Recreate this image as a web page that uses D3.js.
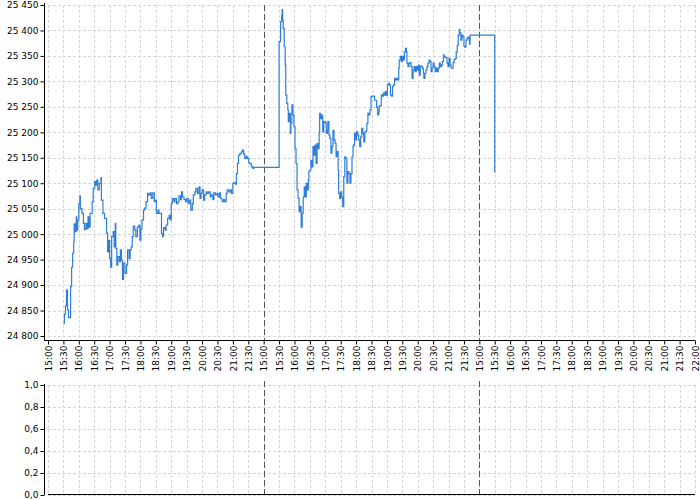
<!DOCTYPE html>
<html>
<head>
<meta charset="utf-8">
<script src="https://cdn.jsdelivr.net/npm/d3@7"></script>
<style>
  html, body { margin: 0; padding: 0; background: #ffffff; }
  svg { display: block; font-family: "DejaVu Sans", sans-serif; }
</style>
</head>
<body>
<svg id="chart" width="700" height="500"></svg>
<script>
// ---------------- DATA ----------------
// Time axis: minutes since the first session open (15:00), sessions concatenated
// (each session 15:00–22:00 = 420 minutes, overnight gap removed).
const tickLabels = [
  "15:00","15:30","16:00","16:30","17:00","17:30","18:00","18:30","19:00","19:30","20:00","20:30","21:00","21:30",
  "15:00","15:30","16:00","16:30","17:00","17:30","18:00","18:30","19:00","19:30","20:00","20:30","21:00","21:30",
  "15:00","15:30","16:00","16:30","17:00","17:30","18:00","18:30","19:00","19:30","20:00","20:30","21:00","21:30","22:00"
];
const sessionBreaks = [420, 840];
const priceTicks = [24800,24850,24900,24950,25000,25050,25100,25150,25200,25250,25300,25350,25400,25450];
const volumeTicks = [0, 0.2, 0.4, 0.6, 0.8, 1.0];

const minutes = [
  30,32,34,36,38,40,44,46,48,50,51,53,55,56,58,60,62,63,66,69,71,74,76,78,80,82,86,88,91,93,95,97,100,103,104,107,110,114,116,118,120,122,124,127,129,131,132,134,136,139,141,143,145,147,150,153,155,158,160,162,164,166,169,171,174,177,179,181,183,186,188,191,194,196,199,201,204,207,209,211,214,216,
  221,223,225,228,230,233,236,238,240,242,245,247,250,253,255,258,260,262,265,268,270,273,275,278,281,283,286,288,291,294,296,298,300,303,305,308,310,313,316,318,321,323,326,329,331,334,336,339,342,344,347,349,352,355,357,360,362,365,367,369,371,374,377,379,381,383,386,388,391,393,396,399,401,
  450,453,455,456,457,458,460,462,463,465,467,468,470,472,473,475,477,479,481,483,485,487,489,491,493,495,497,499,501,503,505,507,508,510,512,514,516,518,520,522,524,526,528,529,531,533,535,537,540,542,544,545,547,549,551,553,555,557,559,561,563,565,566,568,570,572,574,576,578,580,582,584,586,588,590,592,594,595,597,599,601,603,605,607,609,611,613,615,617,620,621,623,625,627,
  629,631,636,640,642,644,645,649,651,653,655,657,659,661,663,665,667,669,671,673,675,677,679,681,683,684,686,688,690,692,694,696,698,699,701,703,705,707,709,711,713,715,717,719,721,723,725,727,729,731,732,734,736,738,740,742,744,746,748,750,752,754,756,758,760,762,764,766,768,770,771,773,777,779,781,783,785,789,791,793,795,797,799,801,802,804,806,808,810,812,814,816,818,820,821,822,
  870
];
const prices = [
  24825,24843,24859,24890,24851,24836,24897,24935,24963,24985,25020,25005,25034,25008,25028,25060,25075,25050,25041,25021,25009,25021,25011,25034,25014,25041,25064,25090,25103,25096,25106,25087,25100,25111,25067,25041,25031,25002,24965,24988,24952,24935,24995,25005,24975,25021,24972,24939,24956,24946,24969,24949,24911,24943,24923,24939,24969,24952,24969,24975,24995,25016,25008,24995,25014,25018,24988,25011,25028,25047,25051,25064,25080,25077,25081,25070,25081,25064,25067,25041,25047,25041,
  25001,24995,25013,25008,25018,25031,25037,25028,25060,25070,25064,25070,25060,25064,25075,25068,25083,25073,25068,25064,25070,25060,25067,25047,25060,25077,25083,25090,25080,25093,25070,25080,25087,25067,25077,25083,25080,25083,25073,25077,25068,25081,25077,25080,25073,25081,25070,25064,25068,25064,25080,25087,25083,25087,25080,25100,25101,25098,25119,25139,25155,25159,25162,25165,25157,25149,25153,25149,25140,25138,25132,25129,25131,
  25378,25417,25430,25441,25420,25404,25368,25332,25273,25257,25244,25221,25237,25198,25218,25254,25234,25211,25168,25139,25087,25070,25044,25054,25014,25041,25073,25093,25073,25100,25087,25106,25123,25126,25145,25132,25172,25155,25175,25139,25178,25168,25198,25237,25227,25234,25201,25221,25218,25198,25204,25221,25195,25188,25159,25172,25204,25185,25178,25152,25162,25126,25080,25070,25083,25073,25054,25113,25152,25149,25100,25123,25119,25100,25119,25152,25172,25175,25198,25185,25201,25195,25185,25172,25191,25208,25198,25181,25201,25204,25218,25237,25234,25244,
  25270,25271,25263,25249,25234,25240,25252,25273,25271,25277,25273,25280,25273,25293,25296,25293,25273,25271,25290,25293,25306,25303,25306,25303,25326,25342,25349,25339,25349,25342,25358,25365,25358,25336,25329,25336,25337,25329,25306,25322,25329,25319,25329,25322,25332,25312,25329,25330,25326,25316,25306,25316,25322,25329,25336,25342,25339,25319,25326,25336,25329,25319,25326,25319,25326,25336,25329,25332,25339,25352,25349,25347,25336,25329,25345,25332,25326,25337,25343,25345,25358,25371,25391,25402,25396,25381,25391,25388,25369,25367,25381,25385,25387,25381,25373,25391,
  25121
];

// ---------------- CHART ----------------
const svg = d3.select("#chart");
const W = 700, H = 500;
const left = 48, right = 695, axisX = 44;
const top1 = 5, bottom1 = 336, axisY1 = 340;
const top2 = 385, bottom2 = 495;

const locale = d3.formatLocale({ decimal: ",", thousands: "\u00a0", grouping: [3], currency: ["", ""] });
const fmtPrice = locale.format(",.0f");
const fmtVol = locale.format(".1f");

const tickMinutes = tickLabels.map((d, i) => i * 30);
const x = d3.scaleLinear().domain([0, 1260]).range([left, right]);
const y = d3.scaleLinear().domain([24800, 25450]).range([bottom1, top1]);
const y2 = d3.scaleLinear().domain([0, 1]).range([bottom2, top2]);

const gridColor = "#d6d6d6";
const gridDash = "3,2";

// grids - main
const g = svg.append("g");
g.selectAll("line.hg").data(priceTicks).join("line")
  .attr("x1", left).attr("x2", right)
  .attr("y1", d => Math.round(y(d)) + 0.5).attr("y2", d => Math.round(y(d)) + 0.5)
  .attr("stroke", gridColor).attr("stroke-dasharray", gridDash);
g.selectAll("line.vg").data(tickMinutes).join("line")
  .attr("x1", d => Math.round(x(d)) + 0.5).attr("x2", d => Math.round(x(d)) + 0.5)
  .attr("y1", top1).attr("y2", bottom1)
  .attr("stroke", gridColor).attr("stroke-dasharray", gridDash);

// grids - lower panel
const g2 = svg.append("g");
g2.selectAll("line.hg").data(volumeTicks).join("line")
  .attr("x1", left).attr("x2", right)
  .attr("y1", d => Math.round(y2(d)) + 0.5).attr("y2", d => Math.round(y2(d)) + 0.5)
  .attr("stroke", gridColor).attr("stroke-dasharray", gridDash);
g2.selectAll("line.vg").data(tickMinutes).join("line")
  .attr("x1", d => Math.round(x(d)) + 0.5).attr("x2", d => Math.round(x(d)) + 0.5)
  .attr("y1", top2).attr("y2", bottom2)
  .attr("stroke", gridColor).attr("stroke-dasharray", gridDash);

// session separators
svg.selectAll("line.sep1").data(sessionBreaks).join("line")
  .attr("x1", d => Math.round(x(d)) + 0.5).attr("x2", d => Math.round(x(d)) + 0.5)
  .attr("y1", top1).attr("y2", axisY1)
  .attr("stroke", "#555").attr("stroke-dasharray", "6,3");
svg.selectAll("line.sep2").data(sessionBreaks).join("line")
  .attr("x1", d => Math.round(x(d)) + 0.5).attr("x2", d => Math.round(x(d)) + 0.5)
  .attr("y1", top2 - 4).attr("y2", bottom2)
  .attr("stroke", "#555").attr("stroke-dasharray", "6,3");

// price line
const series = minutes.map((m, i) => ({ m, v: prices[i] }));
const line = d3.line().x(d => x(d.m)).y(d => y(d.v)).curve(d3.curveStepAfter);
svg.append("path").datum(series)
  .attr("d", line)
  .attr("fill", "none")
  .attr("stroke", "#2f7ed8")
  .attr("stroke-width", 1.2)
  .attr("stroke-linejoin", "miter");

// Y axis main
const yAxis = d3.axisLeft(y).tickValues(priceTicks).tickFormat(fmtPrice).tickSize(4).tickPadding(2);
const ya = svg.append("g").attr("transform", `translate(${axisX + 0.5},0)`).call(yAxis);
ya.select(".domain").remove();
ya.append("line").attr("x1", 0).attr("x2", 0).attr("y1", top1 - 2).attr("y2", axisY1).attr("stroke", "#000");

// X axis main
const xAxis = d3.axisBottom(x).tickValues(tickMinutes).tickFormat((d, i) => tickLabels[i]).tickSize(4).tickSizeOuter(0);
const xa = svg.append("g").attr("transform", `translate(0,${axisY1 + 0.5})`).call(xAxis);
xa.select(".domain").remove();
xa.append("line").attr("x1", axisX).attr("x2", right).attr("y1", 0).attr("y2", 0).attr("stroke", "#000");
xa.selectAll(".tick text")
  .attr("transform", "rotate(-90)")
  .attr("x", -5).attr("y", 0).attr("dy", "0.35em")
  .style("text-anchor", "end");

// Y axis lower
const yAxis2 = d3.axisLeft(y2).tickValues(volumeTicks).tickFormat(fmtVol).tickSize(4).tickPadding(2);
const yb = svg.append("g").attr("transform", `translate(${axisX + 0.5},0)`).call(yAxis2);
yb.select(".domain").remove();
yb.append("line").attr("x1", 0).attr("x2", 0).attr("y1", top2 - 1).attr("y2", bottom2).attr("stroke", "#000");

// lower x-axis line
svg.append("line").attr("x1", left).attr("x2", right)
  .attr("y1", bottom2 - 0.5).attr("y2", bottom2 - 0.5).attr("stroke", "#000");

svg.selectAll(".tick text").attr("font-size", 9).attr("fill", "#000").attr("font-family", "DejaVu Sans, sans-serif");
svg.selectAll(".tick line").attr("stroke", "#000");
</script>
</body>
</html>
